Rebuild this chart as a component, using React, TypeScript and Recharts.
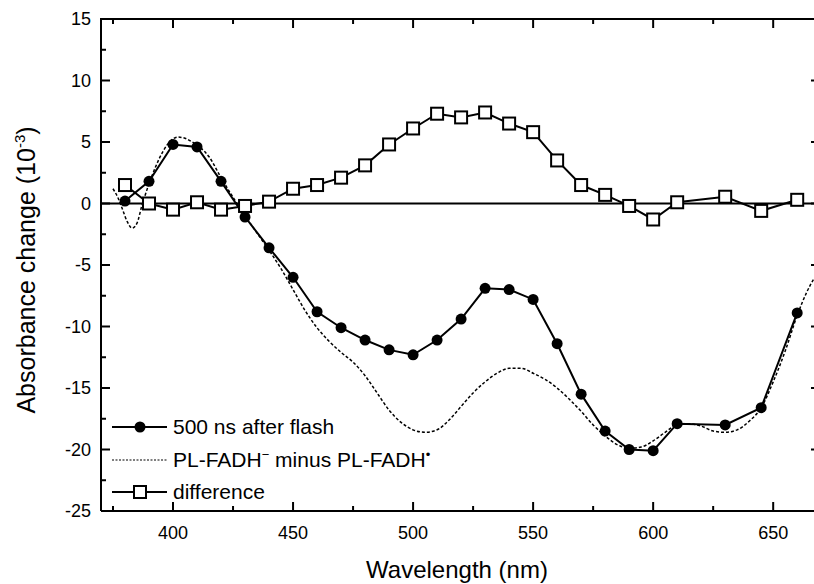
import React from 'react';
import { LineChart, Line, XAxis, YAxis, ReferenceLine } from 'recharts';

const FONT = '"Liberation Sans", Arial, Helvetica, sans-serif';

// measured points (nm)
const WAVELENGTHS = [380, 390, 400, 410, 420, 430, 440, 450, 460, 470, 480, 490, 500, 510, 520, 530, 540, 550, 560, 570, 580, 590, 600, 610, 630, 645, 660];
const FLASH_500NS = [0.2, 1.8, 4.8, 4.6, 1.8, -1.1, -3.6, -6.0, -8.8, -10.1, -11.1, -11.9, -12.3, -11.1, -9.4, -6.9, -7.0, -7.8, -11.4, -15.5, -18.5, -20.0, -20.1, -17.9, -18.0, -16.6, -8.9];
const DIFFERENCE = [1.5, 0.0, -0.5, 0.1, -0.5, -0.2, 0.15, 1.2, 1.5, 2.1, 3.1, 4.8, 6.1, 7.3, 7.0, 7.4, 6.5, 5.8, 3.5, 1.5, 0.7, -0.2, -1.3, 0.1, 0.55, -0.6, 0.3];

// reference spectrum PL-FADH- minus PL-FADH.
const REF_WAVELENGTHS = [375, 377, 379, 381, 383, 385, 387, 390, 393, 396, 399, 402, 405, 408, 411, 415, 420, 425, 430, 435, 440, 445, 450, 455, 460, 465, 470, 475, 480, 485, 490, 495, 500, 505, 510, 515, 520, 525, 530, 535, 540, 545, 550, 555, 560, 565, 570, 575, 580, 585, 590, 595, 600, 605, 610, 615, 620, 625, 630, 635, 640, 645, 650, 655, 660, 664, 667];
const REF_SPECTRUM = [1.2, 0.5, -0.5, -1.5, -2.0, -1.6, -0.2, 1.6, 3.1, 4.3, 5.1, 5.4, 5.3, 5.0, 4.6, 3.8, 2.1, 0.5, -1.0, -2.4, -3.8, -5.3, -7.0, -8.7, -10.1, -11.2, -12.1, -12.9, -14.0, -15.4, -16.8, -17.8, -18.4, -18.6, -18.4, -17.6, -16.5, -15.4, -14.5, -13.8, -13.4, -13.4, -13.8, -14.3, -15.0, -15.9, -16.9, -18.0, -18.9, -19.6, -19.9, -19.8, -19.3, -18.6, -18.0, -17.9, -18.1, -18.5, -18.6, -18.4, -17.7, -16.6, -14.5, -12.0, -9.1, -7.2, -6.1];

// major ticks get a label, the ones in between are minor
const X_TICKS = [375, 400, 425, 450, 475, 500, 525, 550, 575, 600, 625, 650];
const X_LABELS = [400, 450, 500, 550, 600, 650];
const Y_TICKS = [-25, -22.5, -20, -17.5, -15, -12.5, -10, -7.5, -5, -2.5, 0, 2.5, 5, 7.5, 10, 12.5, 15];
const Y_LABELS = [-25, -20, -15, -10, -5, 0, 5, 10, 15];

const X_DOMAIN = [370, 667];
const Y_DOMAIN = [-25, 15];

// plot box in px (from the chart margins below)
const PLOT = { left: 101, top: 19, right: 814, bottom: 511 };
const px = (v: number) => PLOT.left + ((v - X_DOMAIN[0]) / (X_DOMAIN[1] - X_DOMAIN[0])) * (PLOT.right - PLOT.left);
const py = (v: number) => PLOT.top + ((Y_DOMAIN[1] - v) / (Y_DOMAIN[1] - Y_DOMAIN[0])) * (PLOT.bottom - PLOT.top);

const flashData = WAVELENGTHS.map((wl, i) => ({ wl, value: FLASH_500NS[i] }));
const diffData = WAVELENGTHS.map((wl, i) => ({ wl, value: DIFFERENCE[i] }));
const refData = REF_WAVELENGTHS.map((wl, i) => ({ wl, value: REF_SPECTRUM[i] }));

const CircleDot = (props: any) => {
  const { cx, cy, index } = props;
  if (cx == null || cy == null) return null;
  return <circle key={`c-${index}`} cx={cx} cy={cy} r={5.5} fill="#000" />;
};

const SquareDot = (props: any) => {
  const { cx, cy, index } = props;
  if (cx == null || cy == null) return null;
  return <rect key={`s-${index}`} x={cx - 6} y={cy - 6} width={12} height={12} fill="#fff" stroke="#000" strokeWidth={2} />;
};

const XTick = (props: any) => {
  const { x, y, payload } = props;
  if (!X_LABELS.includes(payload.value)) return <g />;
  return (
    <text x={x} y={y + 27.5} textAnchor="middle" fontSize={18} fontFamily={FONT} fill="#000">
      {payload.value}
    </text>
  );
};

const YTick = (props: any) => {
  const { x, y, payload } = props;
  if (!Y_LABELS.includes(payload.value)) return <g />;
  return (
    <text x={x - 10} y={y} dy="0.36em" textAnchor="end" fontSize={18} fontFamily={FONT} fill="#000">
      {payload.value}
    </text>
  );
};

const axisStroke = { stroke: '#000', strokeWidth: 2 };

const LegendRow = ({ kind, children }: { kind: 'circle' | 'dash' | 'square'; children: React.ReactNode }) => (
  <div style={{ display: 'flex', alignItems: 'center', height: 32.5 }}>
    <svg width={63} height={20} style={{ flex: 'none' }}>
      {kind === 'dash' ? (
        <line x1={2} y1={10} x2={57} y2={10} stroke="#000" strokeWidth={1.2} strokeDasharray="2 1.5" />
      ) : (
        <line x1={2} y1={10} x2={57} y2={10} stroke="#000" strokeWidth={2} />
      )}
      {kind === 'circle' && <circle cx={30} cy={10} r={5.5} fill="#000" />}
      {kind === 'square' && <rect x={24} y={4} width={12} height={12} fill="#fff" stroke="#000" strokeWidth={2} />}
    </svg>
    <span>{children}</span>
  </div>
);

export default function App() {
  return (
    <div style={{ position: 'absolute', left: 0, top: 0, width: 814, height: 584, background: '#fff' }}>
      <LineChart width={814} height={584} margin={{ top: 19, right: 0, bottom: 72, left: 100 }}>
        <XAxis
          xAxisId="main" type="number" dataKey="wl" domain={X_DOMAIN} allowDataOverflow
          ticks={X_TICKS} interval={0} height={1} tickSize={0} tickMargin={0}
          axisLine={axisStroke} tickLine={false} tick={XTick}
        />
        <YAxis
          yAxisId="main" type="number" domain={Y_DOMAIN} allowDataOverflow
          ticks={Y_TICKS} interval={0} width={1} tickSize={0} tickMargin={0}
          axisLine={axisStroke} tickLine={false} tick={YTick}
        />
        <ReferenceLine xAxisId="main" yAxisId="main" y={0} stroke="#000" strokeWidth={2} />
        <Line
          data={refData} dataKey="value" xAxisId="main" yAxisId="main" type="monotone"
          stroke="#000" strokeWidth={1.5} strokeDasharray="3 2" dot={false} isAnimationActive={false}
        />
        <Line
          data={flashData} dataKey="value" xAxisId="main" yAxisId="main" type="linear"
          stroke="#000" strokeWidth={2} dot={CircleDot} isAnimationActive={false}
        />
        <Line
          data={diffData} dataKey="value" xAxisId="main" yAxisId="main" type="linear"
          stroke="#000" strokeWidth={2} dot={SquareDot} isAnimationActive={false}
        />
      </LineChart>
      {/* frame, inward ticks and titles */}
      <svg width={814} height={584} style={{ position: 'absolute', left: 0, top: 0, pointerEvents: 'none' }}>
        <line x1={PLOT.left - 1} y1={PLOT.top} x2={PLOT.right} y2={PLOT.top} stroke="#000" strokeWidth={2} />
        {X_TICKS.map((v) => {
          const len = X_LABELS.includes(v) ? 9 : 5;
          return (
            <g key={`xt-${v}`}>
              <line x1={px(v)} y1={PLOT.bottom} x2={px(v)} y2={PLOT.bottom - len} stroke="#000" strokeWidth={2} />
              <line x1={px(v)} y1={PLOT.top} x2={px(v)} y2={PLOT.top + len} stroke="#000" strokeWidth={2} />
            </g>
          );
        })}
        {Y_TICKS.map((v) => {
          const major = Y_LABELS.includes(v);
          const len = major ? 9 : 5;
          return (
            <g key={`yt-${v}`}>
              <line x1={PLOT.left} y1={py(v)} x2={PLOT.left + len} y2={py(v)} stroke="#000" strokeWidth={2} />
              {major && <line x1={PLOT.right - 3} y1={py(v)} x2={PLOT.right} y2={py(v)} stroke="#000" strokeWidth={2} />}
            </g>
          );
        })}
        <text transform="translate(35, 270) rotate(-90)" textAnchor="middle" fontSize={25} fontFamily={FONT} fill="#000">
          Absorbance change (10
          <tspan dy={-10} fontSize={15}>-3</tspan>
          <tspan dy={10}>)</tspan>
        </text>
        <text x={457} y={578} textAnchor="middle" fontSize={24} fontFamily={FONT} fill="#000">
          Wavelength (nm)
        </text>
      </svg>
      <div style={{ position: 'absolute', left: 110, top: 411, fontFamily: FONT, fontSize: 21, color: '#000', whiteSpace: 'nowrap' }}>
        <LegendRow kind="circle">500 ns after flash</LegendRow>
        <LegendRow kind="dash">
          PL-FADH<span style={{ fontSize: 13, verticalAlign: 'super', lineHeight: 0 }}>−</span> minus PL-FADH
          <span style={{ fontSize: 13, verticalAlign: 'super', lineHeight: 0 }}>•</span>
        </LegendRow>
        <LegendRow kind="square">difference</LegendRow>
      </div>
    </div>
  );
}
